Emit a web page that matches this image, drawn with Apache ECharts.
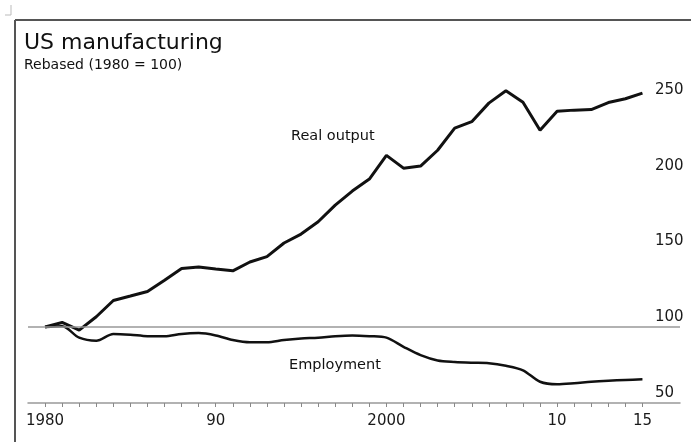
<!DOCTYPE html>
<html>
<head>
<meta charset="utf-8">
<script src="https://cdn.jsdelivr.net/npm/echarts@6/dist/echarts.min.js"></script>
<style>
  html, body { margin: 0; padding: 0; background: #fff; }
  #chart { width: 691px; height: 442px; }
</style>
</head>
<body>
<div id="chart"></div>
<script>
// years 1980..2015, rebased 1980 = 100
var years = [];
for (var y = 1980; y <= 2015; y++) years.push(y);

var realOutput = [100, 103, 98, 106.8, 117.5, 120.4, 123.4, 130.8, 138.5, 139.5,
  138.2, 137, 142.8, 146.4, 155.3, 161.2, 169.3, 180.3, 189.5, 197.4,
  213, 204.6, 206, 216.4, 231, 235.2, 247.4, 255.5, 248, 229.6,
  242, 242.8, 243.2, 247.8, 250.3, 254];

var employment = [100, 100.5, 93, 91, 95.5, 95, 94, 94, 95.5, 96,
  94.5, 91.5, 90, 90, 91.5, 92.5, 93, 94, 94.5, 94,
  93, 87, 81.5, 78, 77, 76.5, 76.2, 74.5, 71.5, 64,
  62.3, 63, 64, 64.7, 65.2, 65.6];

var xLabels = [1980, 1990, 2000, 2010, 2015];
var yLabels = [50, 100, 150, 200, 250];

function pairs(vals) {
  return years.map(function (yr, i) { return [yr, vals[i]]; });
}

var font = '"DejaVu Sans", sans-serif';
var chart = echarts.init(document.getElementById('chart'));

chart.setOption({
  animation: false,
  backgroundColor: '#fff',
  grid: { left: 28, right: 11, top: 84, bottom: 39 },
  xAxis: {
    type: 'value',
    min: 1979,
    max: 2017.2,
    axisLine: { show: true, lineStyle: { color: '#999', width: 1.5 } },
    axisTick: { show: true, length: 4, lineStyle: { color: '#888' }, customValues: years },
    splitLine: { show: false },
    axisLabel: {
      customValues: xLabels,
      margin: 11,
      fontFamily: font,
      fontSize: 15,
      color: '#1a1a1a',
      formatter: function (v) {
        if (v === 1980) return '1980';
        if (v === 2000) return '2000';
        return String(v % 100).padStart(2, '0');
      }
    }
  },
  yAxis: {
    type: 'value',
    position: 'right',
    min: 50,
    max: 260,
    axisLine: { show: false },
    axisTick: { show: false },
    splitLine: { show: false },
    axisLabel: {
      customValues: yLabels,
      margin: -25,
      align: 'left',
      verticalAlign: 'bottom',
      padding: [0, 0, 2, 0],
      fontFamily: font,
      fontSize: 15,
      color: '#1a1a1a'
    }
  },
  series: [
    {
      name: 'Real output',
      type: 'line',
      data: pairs(realOutput),
      symbol: 'none',
      lineStyle: { color: '#111', width: 3 },
      z: 3,
      markLine: {
        silent: true,
        symbol: 'none',
        label: { show: false },
        lineStyle: { color: '#999', width: 1.5, type: 'solid' },
        data: [{ yAxis: 100 }]
      }
    },
    {
      name: 'Employment',
      type: 'line',
      data: pairs(employment),
      symbol: 'none',
      smooth: 0.3,
      lineStyle: { color: '#111', width: 2.5 },
      z: 3
    }
  ],
  graphic: [
    { type: 'line', shape: { x1: 15, y1: 20, x2: 15, y2: 442 }, style: { stroke: '#555', lineWidth: 2 } },
    { type: 'line', shape: { x1: 15, y1: 20, x2: 691, y2: 20 }, style: { stroke: '#555', lineWidth: 2 } },
    { type: 'polyline', shape: { points: [[11, 5], [11, 15], [5, 15]] }, style: { stroke: '#bbb', lineWidth: 1, fill: null } },
    { type: 'text', left: 24, top: 32, style: { text: 'US manufacturing', font: '22px ' + font, fill: '#111' } },
    { type: 'text', left: 24, top: 58, style: { text: 'Rebased (1980 = 100)', font: '14px ' + font, fill: '#111' } },
    { type: 'text', left: 291, top: 129, style: { text: 'Real output', font: '14.5px ' + font, fill: '#111' } },
    { type: 'text', left: 289, top: 358, style: { text: 'Employment', font: '14.5px ' + font, fill: '#111' } }
  ]
});
</script>
</body>
</html>
